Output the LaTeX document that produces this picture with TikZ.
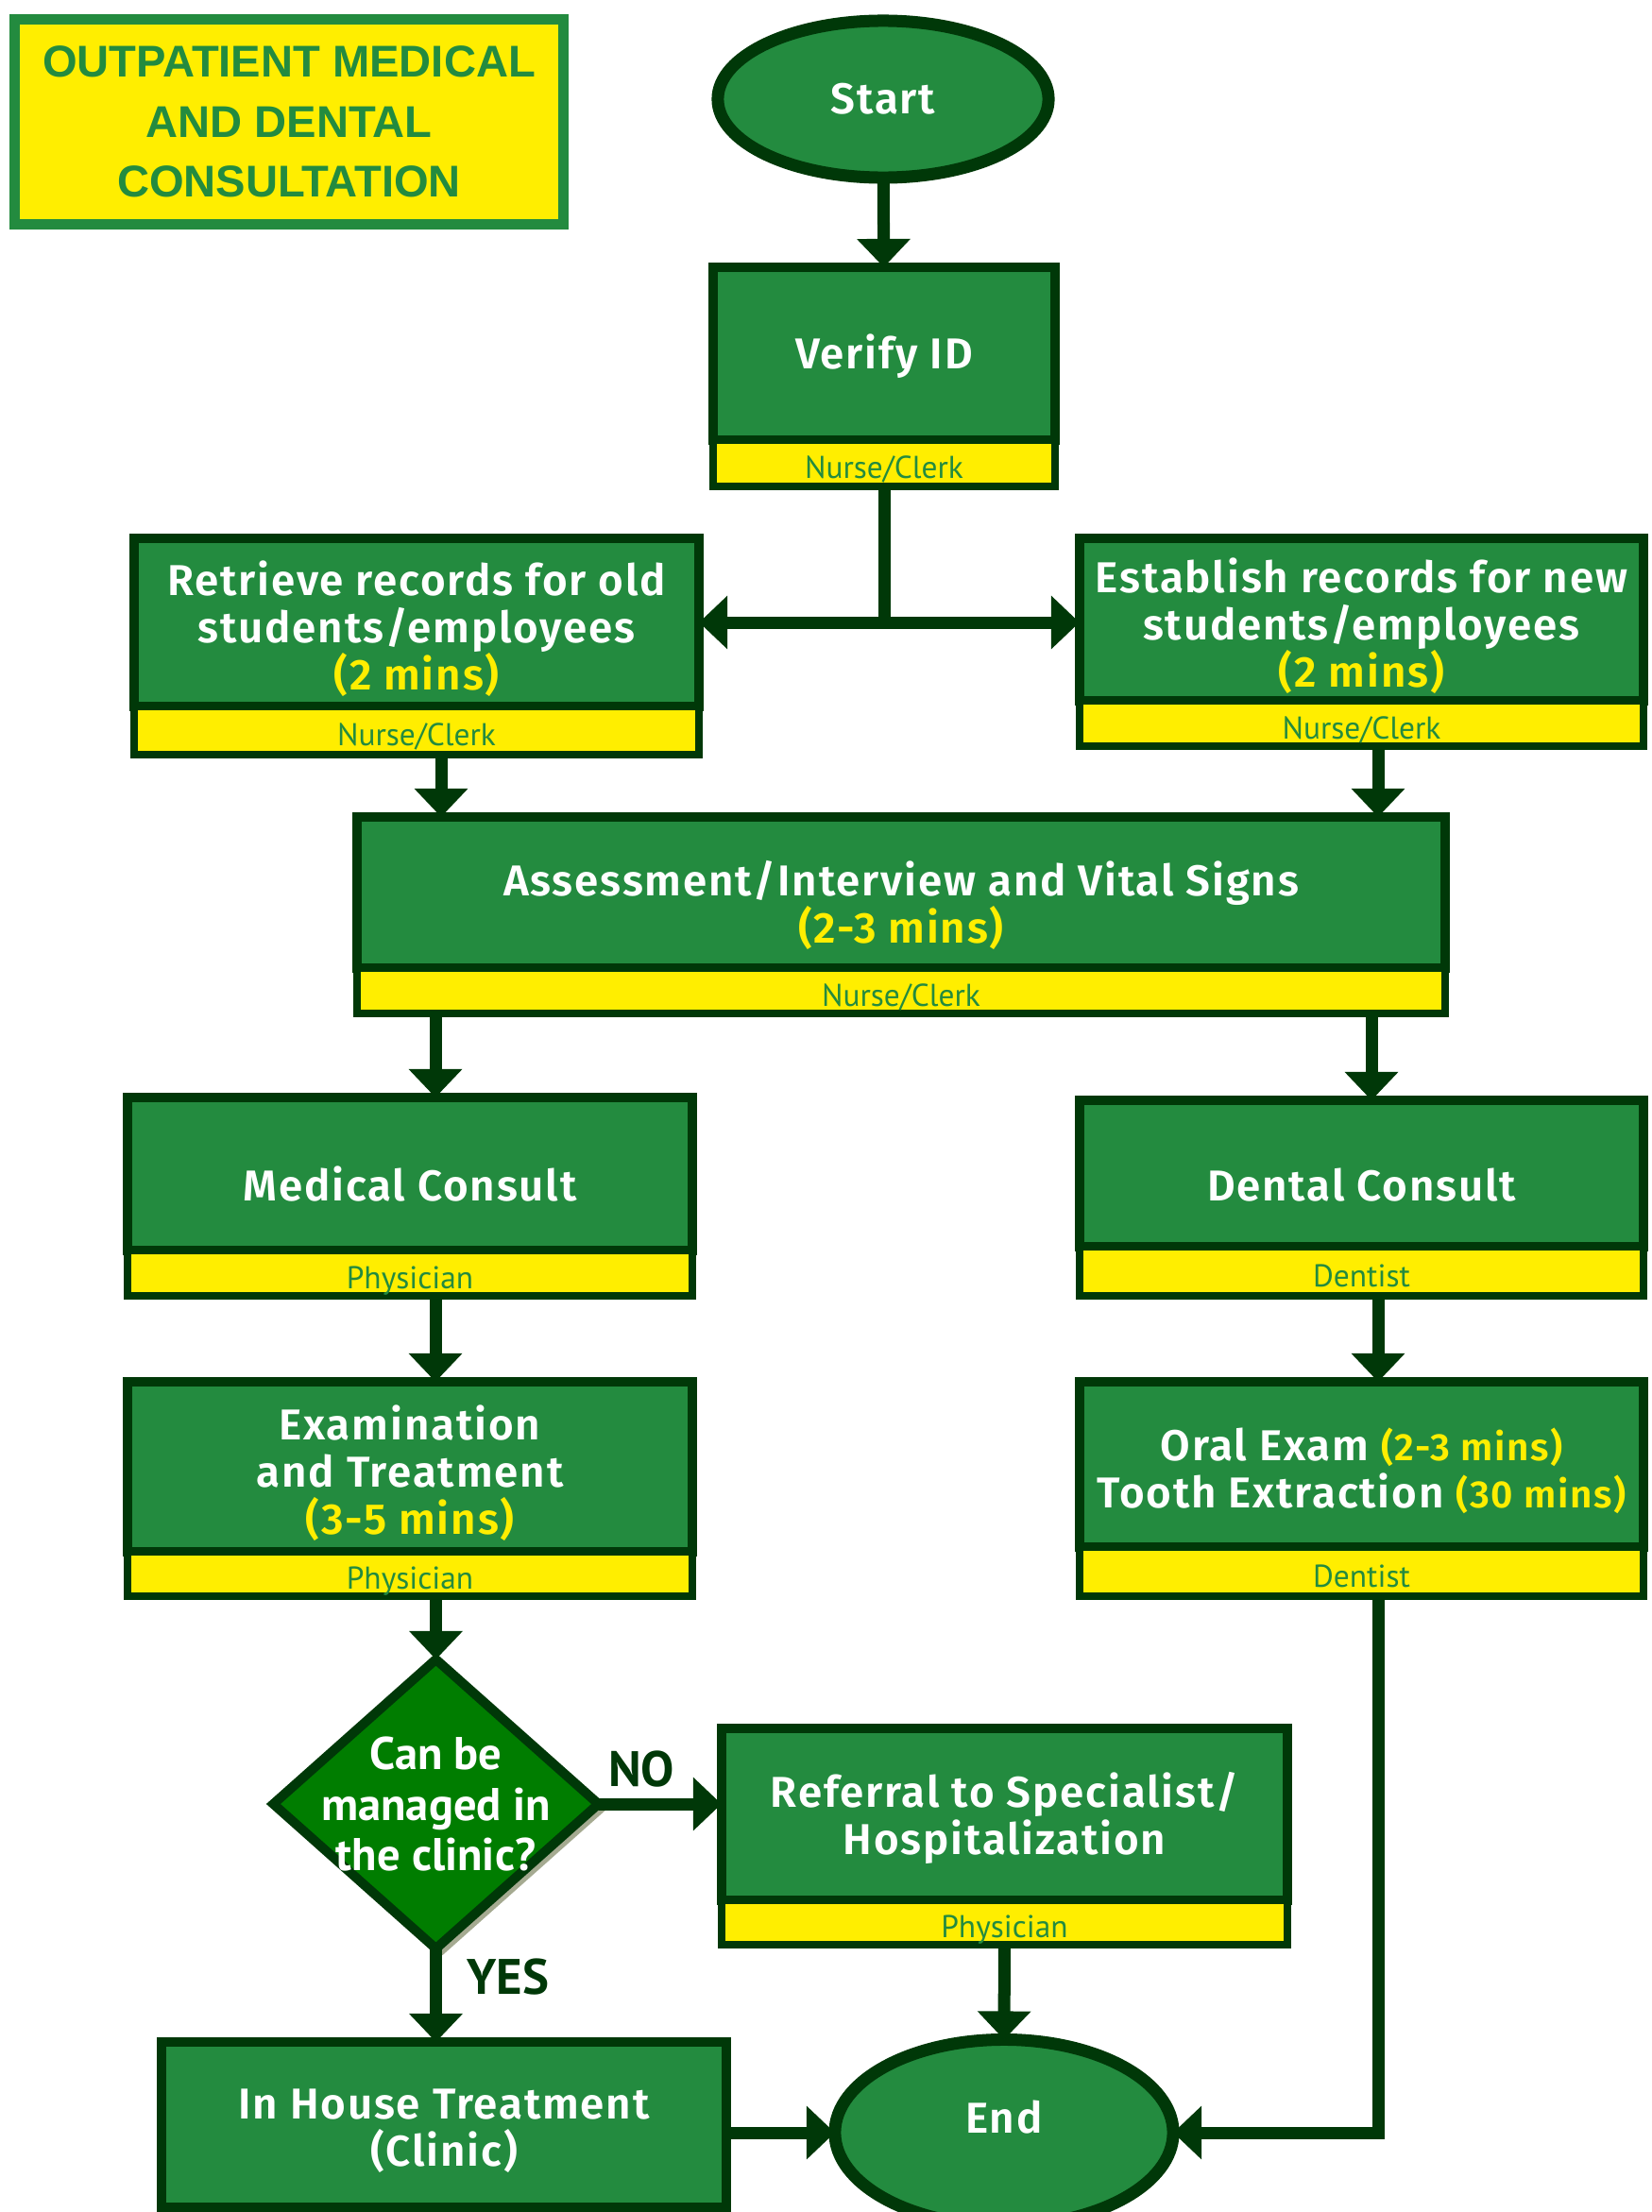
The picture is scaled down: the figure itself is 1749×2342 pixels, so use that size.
\documentclass[tikz,border=0pt]{standalone}
\usepackage{fontspec}
\setmainfont{PT Sans}
\newfontfamily\titlefont{Liberation Sans}
\newfontfamily\boxfont{Fira Sans}[BoldFont={Fira Sans SemiBold}, LetterSpace=4]
\usetikzlibrary{shapes.geometric,arrows.meta,shadows}

\definecolor{boxgreen}{RGB}{35,139,63}
\definecolor{edgegreen}{RGB}{0,56,8}
\definecolor{bandyellow}{RGB}{255,238,0}
\definecolor{diagreen}{RGB}{0,125,0}
\definecolor{shadowgray}{RGB}{165,170,145}

\newcommand{\mins}[1]{\textcolor{bandyellow}{#1}}

\begin{document}
\begin{tikzpicture}[x=0.01cm,y=-0.01cm,
  mainbox/.style={draw=edgegreen, fill=boxgreen, line width=0.1cm, outer sep=0pt,
    inner sep=0pt},
  boxtext/.style={text=white, align=center, inner sep=0pt, yshift=-0.07cm,
    font=\boxfont\bfseries\fontsize{13}{14.2}\selectfont},
  txt/.style={label={[boxtext]center:{#1}}},
  band/.style={draw=edgegreen, fill=bandyellow, line width=0.08cm, outer sep=0pt,
    inner sep=0pt, text=boxgreen, anchor=north, text height=10.6pt, text depth=1.5pt,
    font=\fontsize{9.5}{10}\selectfont},
  terminal/.style={ellipse, draw=edgegreen, fill=boxgreen, line width=0.13cm,
    outer sep=0pt, inner sep=0pt},
  decisionbox/.style={diamond, draw=edgegreen, fill=diagreen, line width=0.1cm,
    outer sep=0pt, inner sep=0pt,
    drop shadow={shadow xshift=0.07cm, shadow yshift=-0.07cm, fill=shadowgray, opacity=1}},
  flow/.style={draw=edgegreen, line width=0.13cm, -{Triangle[length=0.3cm,width=0.55cm]}},
  answer/.style={text=edgegreen, font=\bfseries\fontsize{15}{17}\selectfont}
]
% page frame
\useasboundingbox (0,0) rectangle (1749,2342);

% title panel
\node[draw=boxgreen, fill=bandyellow, line width=0.11cm, minimum width=5.81cm,
  minimum height=2.17cm, inner sep=0pt, align=center, text=boxgreen,
  font=\titlefont\bfseries\fontsize{13.4}{18.1}\selectfont] (title) at (306,129)
  {OUTPATIENT MEDICAL\\AND DENTAL\\CONSULTATION};

% start
\node[terminal, minimum width=3.5cm, minimum height=1.66cm,
  label={[boxtext, yshift=0.07cm]center:Start}] (start) at (935,105) {};

% verify ID
\node[mainbox, minimum width=3.61cm, minimum height=1.83cm,
  label={[boxtext, yshift=0.04cm]center:Verify ID}] (verify) at (936,374.5) {};
\node[band, minimum width=3.61cm, minimum height=0.49cm] (verifyband) at (verify.south) {Nurse/Clerk};

% records
\node[mainbox, minimum width=5.98cm, minimum height=1.78cm,
  txt={Retrieve records for old\\students/employees\\\mins{(2 mins)}}] (retrieve) at (441,659) {};
\node[band, minimum width=5.98cm, minimum height=0.51cm] (retrieveband) at (retrieve.south) {Nurse/Clerk};

\node[mainbox, minimum width=5.97cm, minimum height=1.72cm,
  txt={Establish records for new\\students/employees\\\mins{(2 mins)}}] (establish) at (1441.5,656) {};
\node[band, minimum width=5.97cm, minimum height=0.48cm] (establishband) at (establish.south) {Nurse/Clerk};

% assessment
\node[mainbox, minimum width=11.52cm, minimum height=1.6cm,
  label={[boxtext, yshift=-0.06cm]center:{Assessment/Interview and Vital Signs\\\mins{(2-3 mins)}}}]
  (assess) at (954,945) {};
\node[band, minimum width=11.52cm, minimum height=0.48cm] (assessband) at (assess.south) {Nurse/Clerk};

% consults
\node[mainbox, minimum width=5.98cm, minimum height=1.62cm,
  label={[boxtext, yshift=-0.035cm]center:Medical Consult}] (medical) at (434,1243) {};
\node[band, minimum width=5.98cm, minimum height=0.48cm] (medicalband) at (medical.south) {Physician};

\node[mainbox, minimum width=5.97cm, minimum height=1.55cm,
  label={[boxtext, yshift=-0.05cm]center:Dental Consult}] (dental) at (1441.5,1242.5) {};
\node[band, minimum width=5.97cm, minimum height=0.52cm] (dentalband) at (dental.south) {Dentist};

% treatments
\node[mainbox, minimum width=5.98cm, minimum height=1.8cm,
  txt={Examination\\and Treatment\\\mins{(3-5 mins)}}] (exam) at (434,1553) {};
\node[band, minimum width=5.98cm, minimum height=0.47cm] (examband) at (exam.south) {Physician};

\node[mainbox, minimum width=5.97cm, minimum height=1.75cm,
  txt={Oral Exam \mins{\fontsize{11.5}{14}\selectfont(2-3 mins)}\\Tooth Extraction \mins{\fontsize{11.5}{14}\selectfont(30 mins)}}]
  (oral) at (1441.5,1550.5) {};
\node[band, minimum width=5.97cm, minimum height=0.52cm] (oralband) at (oral.south) {Dentist};

% decision
\node[decisionbox, minimum width=3.44cm, minimum height=3.06cm,
  label={[text=white, align=center, font=\bfseries\fontsize{13.8}{15.3}\selectfont]center:Can be\\managed in\\the clinic?}]
  (decision) at (461.5,1910) {};

% referral
\node[mainbox, minimum width=5.99cm, minimum height=1.82cm,
  label={[boxtext, yshift=0.03cm]center:{Referral to Specialist/\\Hospitalization}}] (referral) at (1063.5,1921) {};
\node[band, minimum width=5.99cm, minimum height=0.47cm] (referralband) at (referral.south) {Physician};

% in-house treatment
\node[mainbox, minimum width=5.98cm, minimum height=1.75cm,
  txt={In House Treatment\\(Clinic)}] (inhouse) at (470,2249.5) {};

% end
\node[terminal, minimum width=3.58cm, minimum height=1.97cm,
  label={[boxtext, yshift=0.23cm]center:End}] (end) at (1063,2258) {};

% connectors
\coordinate (split) at (verifyband.south |- retrieve.east);
\draw[flow] (start) -- (verify);
\draw[draw=edgegreen, line width=0.13cm] (verifyband.south) -- (split);
\draw[flow] (split) -- (retrieve.east);
\draw[flow] (split) -- (split -| establish.west);

\draw[flow] ([xshift=0.26cm]retrieveband.south) -- ([xshift=0.26cm]retrieveband.south |- assess.north);
\draw[flow] ([xshift=0.175cm]establishband.south) -- ([xshift=0.175cm]establishband.south |- assess.north);

\draw[flow] ([xshift=0.27cm]medical.north |- assessband.south) -- ([xshift=0.27cm]medical.north);
\draw[flow] ([xshift=0.105cm]dental.north |- assessband.south) -- ([xshift=0.105cm]dental.north);

\draw[flow] ([xshift=0.27cm]medicalband.south) -- ([xshift=0.27cm]exam.north);
\draw[flow] ([xshift=0.175cm]dentalband.south) -- ([xshift=0.175cm]oral.north);

\draw[flow] (examband.south -| decision.north) -- (decision.north);
\draw[flow] (decision.east) -- node[answer, above=0pt, pos=0.35] (no) {NO} (decision.east -| referral.west);
\draw[flow] (decision.south) -- node[answer, right=0.15cm, pos=0.3] (yes) {YES} (decision.south |- inhouse.north);

\draw[flow] (referralband.south) -- (end.north);
\draw[flow] (end.west -| inhouse.east) -- (end.west);
\draw[flow] ([xshift=0.175cm]oralband.south) |- (end.east);
\end{tikzpicture}
\end{document}
